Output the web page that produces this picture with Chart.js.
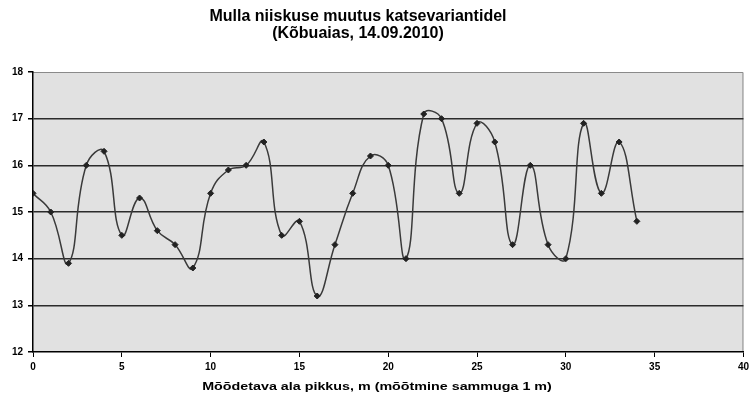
<!DOCTYPE html>
<html>
<head>
<meta charset="utf-8">
<script src="https://cdn.jsdelivr.net/npm/chart.js@4.4.0/dist/chart.umd.min.js"></script>
<style>
  html, body { margin: 0; padding: 0; background: #ffffff; }
  #wrap { width: 753px; height: 394px; position: relative; }
</style>
</head>
<body>
<div id="wrap"><canvas id="c" width="753" height="394"></canvas></div>
<script>
const titleLines = ["Mulla niiskuse muutus katsevariantidel", "(Kõbuaias, 14.09.2010)"];
const xAxisTitle = "Mõõdetava ala pikkus, m (mõõtmine sammuga 1 m)";
const distances = [0,1,2,3,4,5,6,7,8,9,10,11,12,13,14,15,16,17,18,19,20,21,22,23,24,25,26,27,28,29,30,31,32,33,34];
const moisture = [15.4,15.0,13.9,16.0,16.3,14.5,15.3,14.6,14.3,13.8,15.4,15.9,16.0,16.5,14.5,14.8,13.2,14.3,15.4,16.2,16.0,14.0,17.1,17.0,15.4,16.9,16.5,14.3,16.0,14.3,14.0,16.9,15.4,16.5,14.8];
const xTicks = [0,5,10,15,20,25,30,35,40];
const yTicks = [12,13,14,15,16,17,18];

const FONT = "'Liberation Sans', Arial, sans-serif";

const plotDecor = {
  id: 'plotDecor',
  beforeDraw(chart) {
    const { ctx, chartArea: a } = chart;
    ctx.save();
    ctx.fillStyle = '#e1e1e1';
    ctx.fillRect(a.left, a.top, a.right - a.left, a.bottom - a.top);
    ctx.strokeStyle = '#8a8a8a';
    ctx.lineWidth = 1;
    ctx.beginPath();
    ctx.moveTo(a.left, a.top + 0.5);
    ctx.lineTo(a.right - 0.5, a.top + 0.5);
    ctx.lineTo(a.right - 0.5, a.bottom);
    ctx.stroke();
    ctx.restore();
  },
  afterDraw(chart) {
    const { ctx } = chart;
    ctx.save();
    ctx.fillStyle = '#000';
    ctx.textAlign = 'center';
    ctx.textBaseline = 'middle';
    ctx.font = "bold 16px " + FONT;
    ctx.fillText(titleLines[0], 358, 17);
    ctx.fillText(titleLines[1], 358, 34);
    ctx.font = "bold 11px " + FONT;
    ctx.translate(377, 387);
    ctx.scale(1.3, 1);
    ctx.fillText(xAxisTitle, 0, 0);
    ctx.restore();
  }
};

new Chart(document.getElementById('c'), {
  type: 'line',
  data: {
    datasets: [{
      data: distances.map((d, i) => ({ x: d, y: moisture[i] })),
      borderColor: '#3a3a3a',
      borderWidth: 1.5,
      tension: 0.45,
      pointStyle: 'rectRot',
      pointRadius: 3,
      pointBackgroundColor: '#222',
      pointBorderColor: '#222',
      pointBorderWidth: 1,
      fill: false
    }]
  },
  options: {
    responsive: false,
    animation: false,
    devicePixelRatio: 1,
    layout: { padding: { top: 72, right: 8, left: 0, bottom: 0 } },
    plugins: { legend: { display: false }, tooltip: { enabled: false }, title: { display: false } },
    scales: {
      x: {
        type: 'linear',
        min: 0, max: 40,
        afterBuildTicks(axis) { axis.ticks = xTicks.map(v => ({ value: v })); },
        afterFit(axis) { axis.height = 42; },
        border: { display: true, color: '#000', width: 1.5 },
        grid: { drawOnChartArea: false, drawTicks: true, tickLength: 5, color: '#000', lineWidth: 1 },
        ticks: { color: '#000', font: { family: FONT, size: 10, weight: 'bold' }, padding: 4, maxRotation: 0 },
        title: { display: false }
      },
      y: {
        min: 12, max: 18,
        afterBuildTicks(axis) { axis.ticks = yTicks.map(v => ({ value: v })); },
        afterFit(axis) { axis.width = 33; },
        border: { display: true, color: '#000', width: 1.5 },
        grid: {
          drawTicks: true, tickLength: 5,
          color: ctx => (ctx.tick && (ctx.tick.value === 18 || ctx.tick.value === 12)) ? 'rgba(0,0,0,0)' : '#2b2b2b',
          tickColor: '#000',
          lineWidth: 1.5
        },
        ticks: { color: '#000', font: { family: FONT, size: 10, weight: 'bold' }, padding: 5 }
      }
    }
  },
  plugins: [plotDecor]
});
</script>
</body>
</html>
